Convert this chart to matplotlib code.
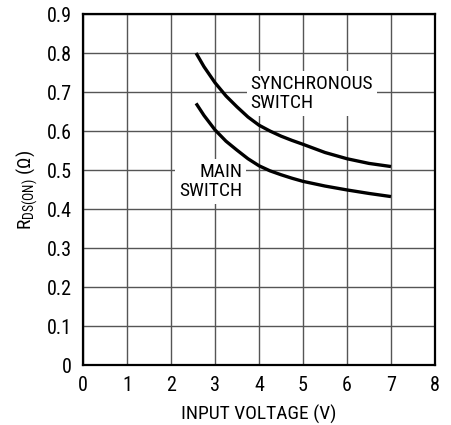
import matplotlib.pyplot as plt
import numpy as np

plt.rcParams['font.family'] = ['Roboto Condensed', 'DejaVu Sans']
plt.rcParams['mathtext.fontset'] = 'custom'
plt.rcParams['mathtext.rm'] = 'Roboto Condensed'

# Datos
vin = np.array([2.57, 2.75, 3.0, 3.25, 3.5, 3.75, 4.0, 4.25, 4.5, 4.75, 5.0,
                5.5, 6.0, 6.5, 7.0])
r_sync = np.array([0.80, 0.765, 0.724, 0.69, 0.662, 0.636, 0.615, 0.600, 0.587,
                   0.576, 0.566, 0.545, 0.529, 0.517, 0.509])
r_main = np.array([0.671, 0.640, 0.603, 0.574, 0.551, 0.529, 0.511, 0.498, 0.488,
                   0.479, 0.471, 0.459, 0.449, 0.440, 0.432])

xticks = [0, 1, 2, 3, 4, 5, 6, 7, 8]
yticks = [0, 0.1, 0.2, 0.3, 0.4, 0.5, 0.6, 0.7, 0.8, 0.9]
ytick_labels = ['0', '0.1', '0.2', '0.3', '0.4', '0.5', '0.6', '0.7', '0.8', '0.9']

fig = plt.figure(figsize=(4.51, 4.25), dpi=100)
ax = fig.add_axes([0.184, 0.141, 0.7805, 0.826])

ax.plot(vin, r_sync, color='black', linewidth=2.4, solid_capstyle='butt', zorder=3)
ax.plot(vin, r_main, color='black', linewidth=2.4, solid_capstyle='butt', zorder=3)

ax.set_xlim(0, 8)
ax.set_ylim(0, 0.9)
ax.set_xticks(xticks)
ax.set_yticks(yticks)
ax.set_yticklabels(ytick_labels)
ax.tick_params(length=0, labelsize=14.5, pad=8)
ax.grid(True, color='#555555', linewidth=1.0)
ax.set_axisbelow(True)
for s in ax.spines.values():
    s.set_linewidth(1.6)

ax.set_xlabel('INPUT VOLTAGE (V)', fontsize=14, labelpad=7)
ax.set_ylabel(r'R$_{\mathregular{DS(ON)}}$ (Ω)', fontsize=14, labelpad=5)

# Etiquetas de las curvas con fondo blanco
ax.text(3.81, 0.697, 'SYNCHRONOUS\nSWITCH', fontsize=14, ha='left', va='center',
        linespacing=1.05, zorder=2,
        bbox=dict(facecolor='white', edgecolor='none', pad=3))
ax.text(3.62, 0.47, 'MAIN\nSWITCH', fontsize=14, ha='right', va='center',
        linespacing=1.05, zorder=2,
        bbox=dict(facecolor='white', edgecolor='none', pad=3))

fig.savefig('out.png', dpi=100)
